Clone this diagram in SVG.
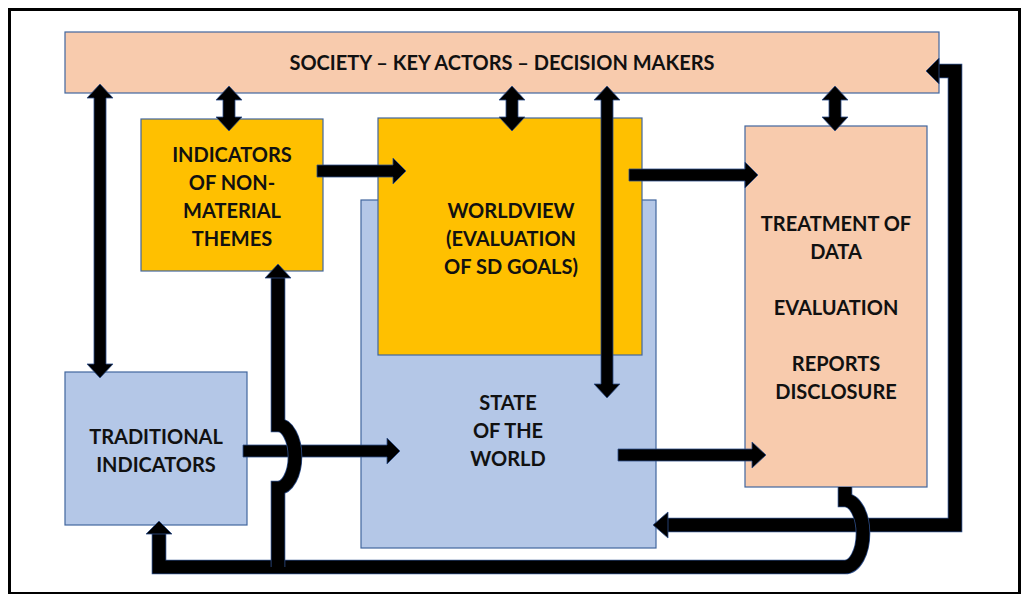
<svg xmlns="http://www.w3.org/2000/svg" width="1021" height="594" viewBox="0 0 1021 594">
  <style>
    .box { stroke: #41669E; stroke-width: 1.2; }
    .peach { fill: #F8CBAD; }
    .gold { fill: #FFC000; }
    .blue { fill: #B4C7E7; }
    .lbl { font-family: Lato, "Liberation Sans", sans-serif; font-weight: bold; font-size: 20px; fill: #111; text-anchor: middle; }
    .arrow { fill: #000; stroke: #2F4F8A; stroke-width: 0.8; stroke-linejoin: miter; }
    .line { fill: none; stroke: #000; stroke-width: 13; stroke-linejoin: miter; }
    .edge { fill: none; stroke: #2F4F8A; stroke-width: 14.6; stroke-linejoin: miter; }
  </style>

  <!-- outer frame -->
  <rect x="9.5" y="9.5" width="1010" height="584" fill="#fff" stroke="#000" stroke-width="3"/>

  <!-- nodes -->
  <g id="society">
    <rect class="box peach" x="65" y="32" width="874" height="61"/>
    <text class="lbl" x="502" y="70">SOCIETY – KEY ACTORS – DECISION MAKERS</text>
  </g>

  <g id="state-of-world">
    <rect class="box blue" x="361" y="200" width="295" height="348"/>
    <text class="lbl" x="508" y="410">STATE</text>
    <text class="lbl" x="508" y="438">OF THE</text>
    <text class="lbl" x="508" y="466">WORLD</text>
  </g>

  <g id="worldview">
    <rect class="box gold" x="378" y="118" width="264" height="237"/>
    <text class="lbl" x="511" y="218">WORLDVIEW</text>
    <text class="lbl" x="511" y="246">(EVALUATION</text>
    <text class="lbl" x="511" y="274">OF SD GOALS)</text>
  </g>

  <g id="non-material-indicators">
    <rect class="box gold" x="141" y="119" width="182" height="152"/>
    <text class="lbl" x="232" y="162">INDICATORS</text>
    <text class="lbl" x="232" y="190">OF NON-</text>
    <text class="lbl" x="232" y="218">MATERIAL</text>
    <text class="lbl" x="232" y="246">THEMES</text>
  </g>

  <g id="treatment">
    <rect class="box peach" x="745" y="126" width="182" height="361"/>
    <text class="lbl" x="836" y="231">TREATMENT OF</text>
    <text class="lbl" x="836" y="259">DATA</text>
    <text class="lbl" x="836" y="315">EVALUATION</text>
    <text class="lbl" x="836" y="371">REPORTS</text>
    <text class="lbl" x="836" y="399">DISCLOSURE</text>
  </g>

  <g id="traditional-indicators">
    <rect class="box blue" x="65" y="372" width="182" height="153"/>
    <text class="lbl" x="156" y="444">TRADITIONAL</text>
    <text class="lbl" x="156" y="472">INDICATORS</text>
  </g>

  <!-- connectors -->
  <g id="connectors">
    <!-- two-way links to society -->
    <polygon class="arrow" points="100,84 113,98 106,98 106,364 113,364 100,378 87,364 94,364 94,98 87,98"/>
    <polygon class="arrow" points="229,86 242,100 235,100 235,117 242,117 229,131 216,117 223,117 223,100 216,100"/>
    <polygon class="arrow" points="512,86 525,100 518,100 518,117 525,117 512,131 499,117 506,117 506,100 499,100"/>
    <polygon class="arrow" points="835,86 848,100 841,100 841,117 848,117 835,131 822,117 829,117 829,100 822,100"/>
    <polygon class="arrow" points="607,86 620,100 613,100 613,384 620,384 607,398 594,384 601,384 601,100 594,100"/>

    <!-- horizontal flows -->
    <polygon class="arrow" points="317,165 393,165 393,158 406,171 393,184 393,177 317,177"/>
    <polygon class="arrow" points="629,169 745,169 745,162 758,175 745,188 745,181 629,181"/>
    <polygon class="arrow" points="618,449 752,449 752,442 766,455 752,468 752,461 618,461"/>
    <polygon class="arrow" points="243,445 387,445 387,438 400,451 387,464 387,457 243,457"/>

    <!-- feedback loop on the right: into state of the world and up to society -->
    <path class="edge" d="M668,525 H955 V71 H939"/>
    <path class="line" d="M668,525 H955 V71 H939"/>
    <polygon class="arrow" points="653,525 668,512 668,538"/>
    <polygon class="arrow" points="926,71 939,58 939,84"/>

    <!-- bottom loop from treatment back to traditional indicators, hopping the feedback line -->
    <path class="edge" d="M845,487 V500 A18,33.5 0 0 1 845,567 H159 V534"/>
    <path class="line" d="M845,487 V500 A18,33.5 0 0 1 845,567 H159 V534"/>
    <polygon class="arrow" points="159,521 172,534 146,534"/>

    <!-- riser to non-material indicators, hopping the traditional flow -->
    <path class="edge" d="M278,567 V488 A17,31.5 0 0 0 278,425 V278"/>
    <path class="line" d="M278,567 V488 A17,31.5 0 0 0 278,425 V278"/>
    <polygon class="arrow" points="278,264 291,278 265,278"/>
  </g>
</svg>
